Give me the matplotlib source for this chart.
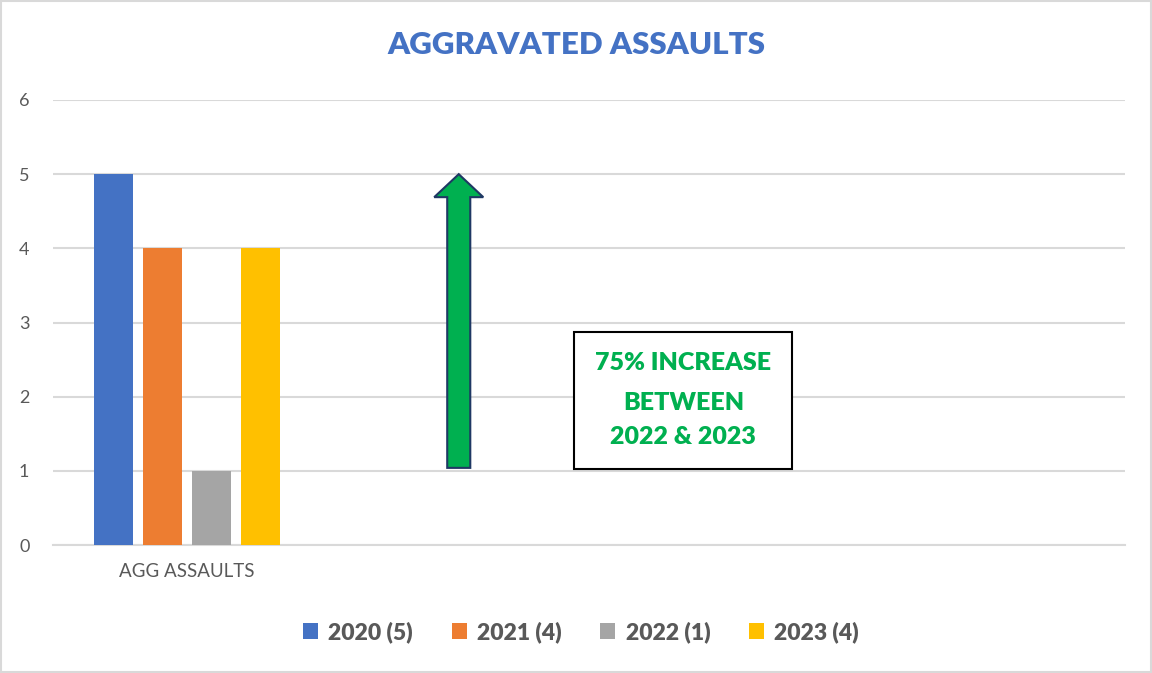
import matplotlib
matplotlib.use('Agg')
import matplotlib.pyplot as plt
from matplotlib.patches import Rectangle, FancyArrow, Patch

plt.rcParams['font.family'] = ['Lato', 'DejaVu Sans']

# data
category = ['AGG ASSAULTS']
years = ['2020 (5)', '2021 (4)', '2022 (1)', '2023 (4)']
counts = [5, 4, 1, 4]
colors = ['#4472C4', '#ED7D31', '#A5A5A5', '#FFC000']
arrow_from, arrow_to = 1, 5
note_lines = ['75% INCREASE', 'BETWEEN', '2022 & 2023']

txt_gray = '#595959'
grid_gray = '#D9D9D9'
green = '#00B050'

fig = plt.figure(figsize=(11.52, 6.73), dpi=100)
ax = fig.add_axes([53/1152, 1-545/673, (1125-53)/1152, (545-100)/673])

bar_w = 0.146
step = 0.183
for i, (lab, v, c) in enumerate(zip(years, counts, colors)):
    ax.bar(0 + (i - 1.5) * step, v, bar_w, color=c, label=lab, zorder=3)

ax.set_xlim(-0.5, 3.5)
ax.set_ylim(0, 6)
ax.set_yticks(range(0, 7))
ax.set_xticks([0])
ax.set_xticklabels(category, fontsize=13.5, color=txt_gray)
ax.tick_params(axis='y', length=0, pad=17, labelsize=13, labelcolor=txt_gray)
ax.tick_params(axis='x', length=0, pad=13)
ax.grid(axis='y', color=grid_gray, linewidth=1.5, zorder=0)
for s in ['top', 'right', 'left']:
    ax.spines[s].set_visible(False)
ax.spines['bottom'].set_color(grid_gray)
ax.spines['bottom'].set_linewidth(1.5)

# green arrow
arr = FancyArrow(1.014, arrow_from + 0.04, 0, arrow_to - arrow_from - 0.04,
                 width=0.086, head_width=0.183, head_length=0.31,
                 length_includes_head=True, facecolor=green,
                 edgecolor='#1F3864', linewidth=1.5, zorder=4)
ax.add_patch(arr)

# note box
ax.add_patch(Rectangle((1.444, 1.025), 0.815, 1.845, facecolor='white',
                       edgecolor='black', linewidth=1.5, zorder=4))
for y, line in zip([2.45, 1.92, 1.45], note_lines):
    ax.text(1.852, y, line, ha='center', va='center', fontsize=18,
            fontweight='heavy', color=green, zorder=5)

fig.text(0.5, 1-45/673, 'AGGRAVATED ASSAULTS', ha='center', va='center',
         fontsize=22.5, fontweight='heavy', color='#4472C4')

handles = [Patch(facecolor=c, edgecolor='none') for c in colors]
leg = fig.legend(handles, years, loc='center', bbox_to_anchor=(581/1152, 1-632/673),
                 ncol=4, frameon=False, handlelength=0.65, handleheight=0.65,
                 handletextpad=0.45, columnspacing=1.7,
                 prop={'size': 16.5, 'weight': 'heavy'})
for t in leg.get_texts():
    t.set_color(txt_gray)

fig.patches.append(Rectangle((0.001, 0.001), 0.998, 0.997, transform=fig.transFigure,
                             fill=False, edgecolor=grid_gray, linewidth=1.5))

fig.savefig('out.png', dpi=100)
